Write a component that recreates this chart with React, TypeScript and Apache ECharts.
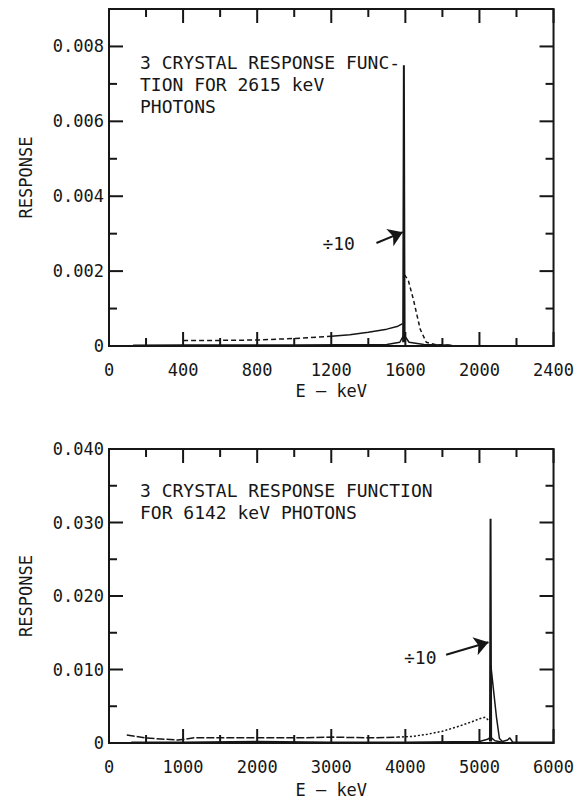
import React, { useEffect, useRef } from "react";
import * as echarts from "echarts";

const FONT = "'DejaVu Sans Mono', monospace";
const INK = "#161616";

// ---------- Top panel: 3 crystal response, 2615 keV photons ----------
const topXTicks = [0, 400, 800, 1200, 1600, 2000, 2400];
const topYTicks = [0, 0.002, 0.004, 0.006, 0.008];
const topYMax = 0.009;
const topLowE = [400, 600, 800, 1000, 1200];
const topLowR = [0.00015, 0.00015, 0.00016, 0.0002, 0.00026];
const topRiseE = [1200, 1300, 1400, 1500, 1560, 1585];
const topRiseR = [0.00026, 0.0003, 0.00037, 0.00045, 0.00053, 0.0006];
const topSpikeE = [1588, 1592, 1596];
const topSpikeR = [0.0001, 0.0075, 0.0001];
const topTailE = [1596, 1616, 1643, 1680, 1713, 1760, 1850];
const topTailR = [0.0019, 0.00175, 0.00125, 0.00045, 0.0001, 0.00004, 0.00002];
const topFloorE = [130, 400, 1000, 1500, 1570, 1592, 1620, 1700, 1850];
const topFloorR = [0.00002, 0.00003, 0.00003, 0.00004, 0.0001, 0.0003, 0.0001, 0.00004, 0.00002];
const topNote = "3 CRYSTAL RESPONSE FUNC-\nTION FOR 2615 keV\nPHOTONS";
const topArrowFrom = [1444, 0.00275];
const topArrowTo = [1586, 0.00304];
const topDivLabelAt = [1240, 0.00275];

// ---------- Bottom panel: 3 crystal response, 6142 keV photons ----------
const botXTicks = [0, 1000, 2000, 3000, 4000, 5000, 6000];
const botYTicks = [0, 0.01, 0.02, 0.03, 0.04];
const botYMax = 0.04;
const botLowE = [240, 480, 930, 1150, 1600, 2050, 2500, 3030, 3500, 3900];
const botLowR = [0.0011, 0.0007, 0.0004, 0.0007, 0.0007, 0.0007, 0.0007, 0.0008, 0.0007, 0.0008];
const botRiseE = [3900, 4100, 4300, 4500, 4700, 4900, 5000, 5080, 5130];
const botRiseR = [0.0008, 0.0009, 0.0012, 0.0016, 0.0022, 0.0029, 0.0033, 0.0035, 0.003];
const botSpikeE = [5142, 5150, 5158];
const botSpikeR = [0.0002, 0.0305, 0.0002];
const botTailE = [5155, 5190, 5230, 5270, 5310, 5380, 5410, 5450, 5700, 6000];
const botTailR = [0.0105, 0.0072, 0.0035, 0.0006, 0.0002, 0.0004, 0.0007, 0.0001, 0.0001, 0.0001];
const botFloorE = [300, 1000, 2000, 3000, 4000, 5000, 5110, 5150, 5210, 5310];
const botFloorR = [0.0001, 0.0001, 0.0002, 0.0001, 0.0001, 0.0002, 0.0005, 0.0008, 0.0003, 0.0001];
const botNote = "3 CRYSTAL RESPONSE FUNCTION\nFOR 6142 keV PHOTONS";
const botArrowFrom = [4550, 0.012];
const botArrowTo = [5122, 0.0137];
const botDivLabelAt = [4201, 0.0116];

const zip = (xs: number[], ys: number[]) => xs.map((x, i) => [x, ys[i]]);
const fmtY = (v: number) => (v === 0 ? "0" : v.toFixed(3));
const fmtX = (v: number) => String(v);
const midpoints = (t: number[]) => t.slice(1).map((v, i) => (v + t[i]) / 2);

const textStyle = { fontFamily: FONT, fontSize: 17, color: INK };

function xAxis(gridIndex: number, ticks: number[], nameGap: number) {
  return {
    gridIndex,
    type: "value",
    position: "bottom",
    min: ticks[0],
    max: ticks[ticks.length - 1],
    interval: ticks[1] - ticks[0],
    splitLine: { show: false },
    axisLine: { show: true, onZero: false, lineStyle: { color: INK, width: 2 } },
    axisTick: { show: false },
    axisLabel: { ...textStyle, margin: 15, formatter: fmtX },
    name: "E \u2014 keV",
    nameLocation: "middle",
    nameGap,
    nameTextStyle: { ...textStyle },
  };
}

function yAxis(gridIndex: number, ticks: number[], max: number) {
  return {
    gridIndex,
    type: "value",
    position: "left",
    min: ticks[0],
    max,
    interval: ticks[1] - ticks[0],
    splitLine: { show: false },
    axisLine: { show: true, onZero: false, lineStyle: { color: INK, width: 2 } },
    axisTick: { show: false },
    axisLabel: { ...textStyle, margin: 5, formatter: fmtY, showMaxLabel: max === ticks[ticks.length - 1] },
    name: "RESPONSE",
    nameLocation: "middle",
    nameGap: 75,
    nameTextStyle: { ...textStyle },
  };
}

// Inward ticks on the four sides of the frame, placed through the axes' own scales.
// item = [side (0 bottom, 1 top, 2 left, 3 right), value, major(1)/minor(0)]
function frameTicks(axisIndex: number, xTicks: number[], yTicks: number[], yMax: number) {
  const xMin = xTicks[0];
  const xMax = xTicks[xTicks.length - 1];
  const yMin = yTicks[0];
  const items: number[][] = [];
  for (const side of [0, 1]) {
    xTicks.forEach((v) => items.push([side, v, 1]));
    midpoints(xTicks).forEach((v) => items.push([side, v, 0]));
  }
  for (const side of [2, 3]) {
    yTicks.forEach((v) => items.push([side, v, 1]));
    midpoints(yTicks).forEach((v) => items.push([side, v, 0]));
  }
  return {
    type: "custom",
    xAxisIndex: axisIndex,
    yAxisIndex: axisIndex,
    silent: true,
    clip: false,
    z: 5,
    data: items,
    renderItem: (params: any, api: any) => {
      const side = api.value(0);
      const v = api.value(1);
      const len = api.value(2) === 1 ? 14 : 8;
      let p: number[];
      let q: number[];
      if (side === 0) {
        p = api.coord([v, yMin]);
        q = [p[0], p[1] - len];
      } else if (side === 1) {
        p = api.coord([v, yMax]);
        q = [p[0], p[1] + len];
      } else if (side === 2) {
        p = api.coord([xMin, v]);
        q = [p[0] + len, p[1]];
      } else {
        p = api.coord([xMax, v]);
        q = [p[0] - len, p[1]];
      }
      return {
        type: "polyline",
        shape: { points: [p, q] },
        style: { stroke: INK, lineWidth: 2, fill: "none" },
      };
    },
  };
}

function curve(axisIndex: number, data: number[][], width: number, type: any = "solid") {
  return {
    type: "line",
    xAxisIndex: axisIndex,
    yAxisIndex: axisIndex,
    data,
    showSymbol: false,
    symbol: "none",
    silent: true,
    lineStyle: { color: INK, width, type },
  };
}

function spike(axisIndex: number, data: number[][], from: number[], to: number[], labelAt: number[]) {
  return {
    ...curve(axisIndex, data, 2),
    markLine: {
      silent: true,
      symbol: ["none", "arrow"],
      symbolSize: 14,
      lineStyle: { color: INK, width: 2, type: "solid" },
      label: { show: false },
      data: [[{ coord: from }, { coord: to }]],
    },
    markPoint: {
      silent: true,
      symbol: "circle",
      symbolSize: 1,
      itemStyle: { color: "rgba(0,0,0,0)" },
      label: { show: true, position: "inside", formatter: "\u00f710", fontFamily: FONT, fontSize: 18, color: INK },
      data: [{ coord: labelAt }],
    },
  };
}

export default function App() {
  const ref = useRef<HTMLDivElement>(null);
  useEffect(() => {
    if (!ref.current) return;
    const chart = echarts.init(ref.current, undefined, { renderer: "svg" });
    chart.setOption({
      animation: false,
      backgroundColor: "#ffffff",
      grid: [
        { left: 109, top: 9, width: 449, height: 337, show: true, borderColor: INK, borderWidth: 2 },
        { left: 109, top: 449, width: 449, height: 294, show: true, borderColor: INK, borderWidth: 2 },
      ],
      xAxis: [xAxis(0, topXTicks, 36), xAxis(1, botXTicks, 38)],
      yAxis: [yAxis(0, topYTicks, topYMax), yAxis(1, botYTicks, botYMax)],
      graphic: [
        { type: "text", left: 140, top: 51, style: { text: topNote, font: `18px ${FONT}`, lineHeight: 22, fill: INK } },
        { type: "text", left: 140, top: 479, style: { text: botNote, font: `18px ${FONT}`, lineHeight: 22, fill: INK } },
      ],
      series: [
        frameTicks(0, topXTicks, topYTicks, topYMax),
        curve(0, zip(topLowE, topLowR), 1.5, [5, 3]),
        curve(0, zip(topRiseE, topRiseR), 1.5),
        spike(0, zip(topSpikeE, topSpikeR), topArrowFrom, topArrowTo, topDivLabelAt),
        curve(0, zip(topTailE, topTailR), 1.5, [4, 3]),
        curve(0, zip(topFloorE, topFloorR), 1.5),
        frameTicks(1, botXTicks, botYTicks, botYMax),
        curve(1, zip(botLowE, botLowR), 1.5, [8, 2]),
        curve(1, zip(botRiseE, botRiseR), 1.5, [2, 2]),
        spike(1, zip(botSpikeE, botSpikeR), botArrowFrom, botArrowTo, botDivLabelAt),
        curve(1, zip(botTailE, botTailR), 1.5),
        curve(1, zip(botFloorE, botFloorR), 1.5),
      ],
    });
    return () => chart.dispose();
  }, []);
  return (
    <div
      ref={ref}
      style={{ position: "absolute", left: 0, top: 0, width: 577, height: 807, background: "#fff" }}
    />
  );
}
